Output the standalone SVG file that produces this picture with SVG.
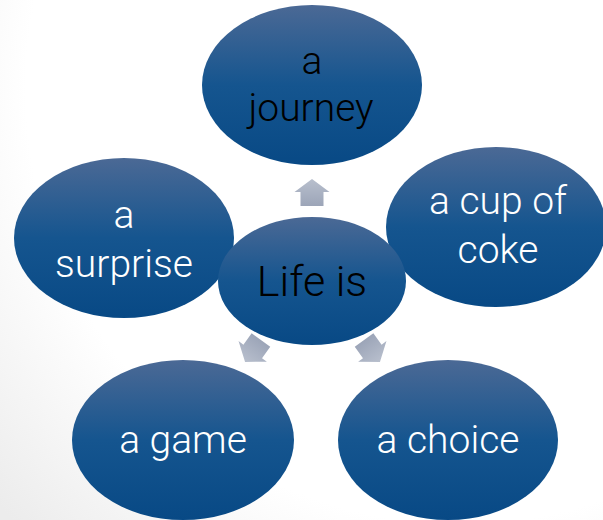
<svg xmlns="http://www.w3.org/2000/svg" width="603" height="520" viewBox="0 0 603 520">
<defs>
<radialGradient id="bg" cx="460" cy="90" r="620" gradientUnits="userSpaceOnUse">
<stop offset="0.7" stop-color="#ffffff"/>
<stop offset="1" stop-color="#ececec"/>
</radialGradient>
<linearGradient id="nodeFill" x1="0" y1="0" x2="0" y2="1">
<stop offset="0" stop-color="#4b6995"/>
<stop offset="0.5" stop-color="#15558f"/>
<stop offset="1" stop-color="#084985"/>
</linearGradient>
<linearGradient id="arrowFill" x1="0" y1="0" x2="0" y2="1">
<stop offset="0" stop-color="#b8bfcd"/>
<stop offset="1" stop-color="#9ca5b8"/>
</linearGradient>
<path id="arr" d="M0,-13.5 L17.5,-0.5 L11.5,-0.5 L11.5,13.5 L-11.5,13.5 L-11.5,-0.5 L-17.5,-0.5 Z"/>
</defs>
<style>
.node ellipse { fill: url(#nodeFill); }
.lbl { font-family: Roboto, "Open Sans", "Liberation Sans", sans-serif; font-weight: 300; font-size: 39px; fill: #ffffff; text-anchor: middle; }
.dark { fill: #000000; }
.big { font-size: 43px; }
.arrow { fill: url(#arrowFill); }
</style>
<rect x="0" y="0" width="603" height="520" fill="url(#bg)"/>
<g id="connectors">
<use href="#arr" class="arrow" transform="translate(312,192.5)"/>
<use href="#arr" class="arrow" transform="translate(253,351) rotate(216)"/>
<use href="#arr" class="arrow" transform="translate(372,351) rotate(144)"/>
</g>
<g id="node-journey" class="node">
<ellipse cx="312" cy="85" rx="110" ry="80"/>
<text class="lbl dark" x="312" y="74">a</text>
<text class="lbl dark" x="311" y="121">journey</text>
</g>
<g id="node-surprise" class="node">
<ellipse cx="124" cy="238" rx="110" ry="80"/>
<text class="lbl" x="124" y="228">a</text>
<text class="lbl" x="124" y="277">surprise</text>
</g>
<g id="node-coke" class="node">
<ellipse cx="496" cy="227" rx="110" ry="80"/>
<text class="lbl" x="498" y="214">a cup of</text>
<text class="lbl" x="498" y="263">coke</text>
</g>
<g id="node-game" class="node">
<ellipse cx="183" cy="440" rx="111" ry="80"/>
<text class="lbl" x="183" y="453">a game</text>
</g>
<g id="node-choice" class="node">
<ellipse cx="448" cy="440" rx="110" ry="80"/>
<text class="lbl" x="448" y="453">a choice</text>
</g>
<g id="node-life" class="node">
<ellipse cx="312" cy="281" rx="94" ry="64"/>
<text class="lbl dark big" x="312" y="296">Life is</text>
</g>
</svg>
